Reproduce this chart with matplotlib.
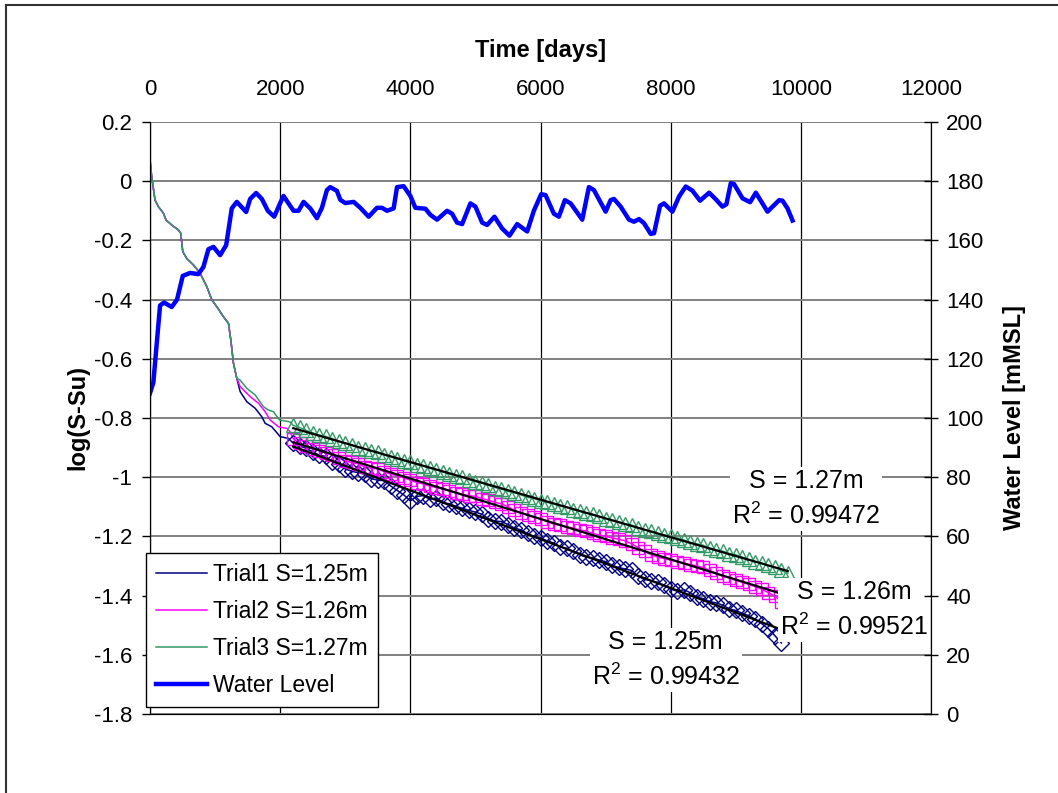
import numpy as np
import matplotlib.pyplot as plt
from matplotlib.lines import Line2D

plt.rcParams['font.family'] = 'Liberation Sans'
plt.rcParams['mathtext.fontset'] = 'custom'
plt.rcParams['mathtext.rm'] = 'Liberation Sans'

# early part of the drawdown curve (all three trials nearly identical)
early_days = [0, 26, 77, 128, 205, 246, 333, 436, 472, 503, 564, 667, 769, 872,
              949, 1026, 1128, 1205, 1241, 1282, 1333]
early_val = [0.072, 0.015, -0.064, -0.086, -0.108, -0.131, -0.148, -0.165, -0.176,
             -0.238, -0.261, -0.283, -0.311, -0.356, -0.401, -0.424, -0.458, -0.480,
             -0.536, -0.615, -0.666]

t1_tail_days = [1385, 1487, 1615, 1718, 1769, 1872, 2000, 2128]
t1_tail_val = [-0.711, -0.745, -0.767, -0.796, -0.818, -0.830, -0.863, -0.869]
t2_tail_days = [1385, 1538, 1666, 1769, 1846, 1974, 2103, 2150]
t2_tail_val = [-0.694, -0.728, -0.750, -0.779, -0.807, -0.830, -0.835, -0.846]
t3_tail_days = [1385, 1487, 1615, 1743, 1820, 1897, 1990, 2150]
t3_tail_val = [-0.672, -0.700, -0.722, -0.762, -0.773, -0.779, -0.807, -0.813]

# regression period (markers)
mark_days = [2200, 2300, 2400, 2500, 2600, 2700, 2800, 2900, 3000, 3100, 3200, 3300,
             3400, 3500, 3600, 3700, 3800, 3900, 4000, 4100, 4200, 4300, 4400, 4500,
             4600, 4700, 4800, 4900, 5000, 5100, 5200, 5300, 5400, 5500, 5600, 5700,
             5800, 5900, 6000, 6100, 6200, 6300, 6400, 6500, 6600, 6700, 6800, 6900,
             7000, 7100, 7200, 7300, 7400, 7500, 7600, 7700, 7800, 7900, 8000, 8100,
             8200, 8300, 8400, 8500, 8600, 8700, 8800, 8900, 9000, 9100, 9200, 9300,
             9400, 9500, 9600, 9700, 9800]

t1_mark = [-0.885, -0.895, -0.902, -0.915, -0.925, -0.930, -0.948, -0.955, -0.972, -0.980,
           -0.985, -0.990, -1.005, -1.010, -1.012, -1.030, -1.045, -1.060, -1.080, -1.065,
           -1.062, -1.075, -1.070, -1.085, -1.090, -1.098, -1.105, -1.112, -1.118, -1.125,
           -1.140, -1.148, -1.150, -1.160, -1.172, -1.178, -1.190, -1.200, -1.205, -1.215,
           -1.222, -1.235, -1.240, -1.250, -1.262, -1.270, -1.272, -1.280, -1.285, -1.298,
           -1.305, -1.310, -1.315, -1.335, -1.345, -1.350, -1.355, -1.365, -1.378, -1.385,
           -1.380, -1.390, -1.405, -1.410, -1.420, -1.425, -1.432, -1.445, -1.450, -1.460,
           -1.468, -1.480, -1.495, -1.512, -1.535, -1.560]
t2_mark = [-0.870, -0.885, -0.895, -0.905, -0.910, -0.918, -0.925, -0.935, -0.945, -0.950,
           -0.955, -0.965, -0.970, -0.972, -0.982, -0.990, -0.995, -1.002, -1.010, -1.018,
           -1.022, -1.030, -1.035, -1.040, -1.045, -1.052, -1.058, -1.062, -1.065, -1.072,
           -1.078, -1.085, -1.090, -1.100, -1.112, -1.120, -1.128, -1.135, -1.140, -1.150,
           -1.158, -1.162, -1.168, -1.172, -1.178, -1.182, -1.190, -1.195, -1.200, -1.205,
           -1.210, -1.215, -1.225, -1.238, -1.250, -1.262, -1.270, -1.275, -1.280, -1.285,
           -1.290, -1.295, -1.300, -1.305, -1.315, -1.325, -1.335, -1.340, -1.348, -1.355,
           -1.362, -1.370, -1.378, -1.390, -1.402, -1.420]
t3_mark = [-0.825, -0.832, -0.842, -0.850, -0.858, -0.862, -0.870, -0.878, -0.885, -0.892,
           -0.900, -0.905, -0.912, -0.915, -0.925, -0.932, -0.938, -0.945, -0.950, -0.958,
           -0.962, -0.970, -0.975, -0.982, -0.990, -0.995, -1.000, -1.008, -1.015, -1.020,
           -1.028, -1.035, -1.040, -1.048, -1.052, -1.060, -1.068, -1.072, -1.080, -1.085,
           -1.090, -1.098, -1.102, -1.110, -1.115, -1.120, -1.125, -1.132, -1.140, -1.145,
           -1.150, -1.158, -1.162, -1.170, -1.178, -1.182, -1.190, -1.195, -1.200, -1.205,
           -1.212, -1.220, -1.225, -1.230, -1.240, -1.245, -1.250, -1.258, -1.262, -1.270,
           -1.278, -1.285, -1.290, -1.298, -1.305, -1.315, -1.325]

# water level
wl_days = [0, 51, 154, 215, 333, 415, 503, 615, 742, 820, 897, 974, 1077, 1170, 1256,
           1333, 1477, 1538, 1630, 1718, 1810, 1908, 2000, 2051, 2205, 2282, 2359, 2462,
           2564, 2641, 2718, 2769, 2872, 2923, 3000, 3128, 3231, 3359, 3487, 3564, 3641,
           3743, 3795, 3897, 4000, 4077, 4231, 4308, 4410, 4564, 4641, 4718, 4795, 4923,
           5000, 5103, 5179, 5292, 5410, 5523, 5641, 5795, 5897, 6010, 6077, 6205, 6282,
           6374, 6462, 6641, 6743, 6820, 7000, 7077, 7128, 7231, 7359, 7436, 7513, 7590,
           7692, 7744, 7836, 7897, 8026, 8128, 8231, 8333, 8451, 8590, 8692, 8795, 8856,
           8923, 8974, 9103, 9220, 9308, 9487, 9667, 9718, 9795, 9872]
wl = [108.4, 112, 138, 139, 137.5, 140, 148, 149, 148.6, 151, 157, 157.8, 155, 158.4,
      170.8, 173, 169.6, 174, 176, 174, 170, 168, 172.6, 175, 170, 170, 173, 170.8, 167.5,
      171, 177, 178, 176.7, 173.7, 172.6, 173, 171, 168, 171, 171, 170, 170.8, 178, 178.3,
      175, 171, 170.7, 168.6, 167, 170, 169, 166, 165.5, 172.5, 171.4, 166, 165.2, 168,
      164, 161.6, 165.5, 163, 170, 175.6, 175.3, 169, 168, 173.6, 172.5, 167, 178, 177,
      169.7, 173.6, 174, 171.4, 167, 166.3, 167.2, 165.8, 162.2, 162.4, 171.7, 172.5,
      169.7, 174.8, 178.2, 176.8, 173.4, 176.1, 173.9, 171.4, 172.2, 179.3, 179, 174.2,
      172.9, 176.1, 169.7, 173.6, 173.4, 170.8, 166.7]

labels = ['Trial1 S=1.25m', 'Trial2 S=1.26m', 'Trial3 S=1.27m']
colors = ['#000080', '#FF00FF', '#339966']
markers = ['D', 's', '^']
msizes = [8, 8.5, 9.5]
annot = ['S = 1.25m\nR$^{2}$ = 0.99432', 'S = 1.26m\nR$^{2}$ = 0.99521',
         'S = 1.27m\nR$^{2}$ = 0.99472']
annot_pos = [(7923, -1.618), (10815, -1.449), (10077, -1.074)]

fig = plt.figure(figsize=(10.58, 7.93), dpi=100)
ax = fig.add_axes([0.1418, 0.0996, 0.7382, 0.7466])
ax2 = ax.twinx()

tails = [(t1_tail_days, t1_tail_val), (t2_tail_days, t2_tail_val), (t3_tail_days, t3_tail_val)]
marks = [t1_mark, t2_mark, t3_mark]
handles = []
for i in range(3):
    md = mark_days[:len(marks[i])]
    xs = early_days + tails[i][0] + md
    ys = early_val + tails[i][1] + marks[i]
    h, = ax.plot(xs, ys, color=colors[i], lw=1.1, label=labels[i], zorder=2)
    handles.append(h)
    ax.plot(md, marks[i], ls='none', marker=markers[i], ms=msizes[i], mfc='none',
            mec=colors[i], mew=1.0, zorder=3)

for i in range(3):
    md = np.array(mark_days[:len(marks[i])])
    k, b = np.polyfit(md, marks[i], 1)
    ax.plot([md[0], md[-1]], [k * md[0] + b, k * md[-1] + b], color='black', lw=1.6, zorder=4)

for txt, (x, y) in zip(annot, annot_pos):
    ax.text(x, y, txt, ha='center', va='center', fontsize=18, linespacing=1.45, zorder=6,
            bbox=dict(facecolor='white', edgecolor='none', pad=1.5))

h_wl, = ax2.plot(wl_days, wl, color='#0000FF', lw=3.2, label='Water Level')
handles.append(h_wl)

ax.set_xlim(0, 12000)
ax.set_ylim(-1.8, 0.2)
ax2.set_ylim(0, 200)
ax.set_xticks(np.arange(0, 12001, 2000))
ax.set_yticks(np.arange(-1.8, 0.21, 0.2))
ax.set_yticklabels(['-1.8', '-1.6', '-1.4', '-1.2', '-1', '-0.8', '-0.6', '-0.4', '-0.2', '0', '0.2'])
ax2.set_yticks(np.arange(0, 201, 20))

ax.xaxis.tick_top()
ax.xaxis.set_label_position('top')
ax.tick_params(axis='x', length=0, pad=16, labelsize=16)
ax.tick_params(axis='y', direction='out', length=6, width=1, pad=7, labelsize=16)
ax2.tick_params(axis='y', direction='inout', length=10, width=1, pad=6, labelsize=16)

ax.grid(axis='x', color='black', lw=0.9)
ax.grid(axis='y', color='#808080', lw=1.4)
ax.set_axisbelow(True)
for s in ['left', 'right', 'bottom']:
    ax2.spines[s].set_color('black')
ax2.spines['top'].set_visible(False)
ax.spines['top'].set_visible(False)

ax.set_xlabel('Time [days]', fontsize=17, fontweight='bold', labelpad=16)
ax.set_ylabel('log(S-Su)', fontsize=17, fontweight='bold', labelpad=3)
ax2.set_ylabel('Water Level [mMSL]', fontsize=17, fontweight='bold', labelpad=14)

leg = ax2.legend(handles=handles, loc='lower left', bbox_to_anchor=(-0.005, 0.012),
                 borderaxespad=0, fontsize=16.5, frameon=True, fancybox=False,
                 framealpha=1, edgecolor='black', handlelength=2.2, handletextpad=0.25,
                 labelspacing=0.6, borderpad=0.45)
leg.get_frame().set_linewidth(1.0)
leg.set_zorder(10)

# chart area border
fig.add_artist(Line2D([6 / 1058, 1], [1 - 5 / 793, 1 - 5 / 793], color='#333333', lw=1.5))
fig.add_artist(Line2D([6 / 1058, 6 / 1058], [0, 1 - 5 / 793], color='#333333', lw=1.5))

fig.savefig('out.png', dpi=100)
